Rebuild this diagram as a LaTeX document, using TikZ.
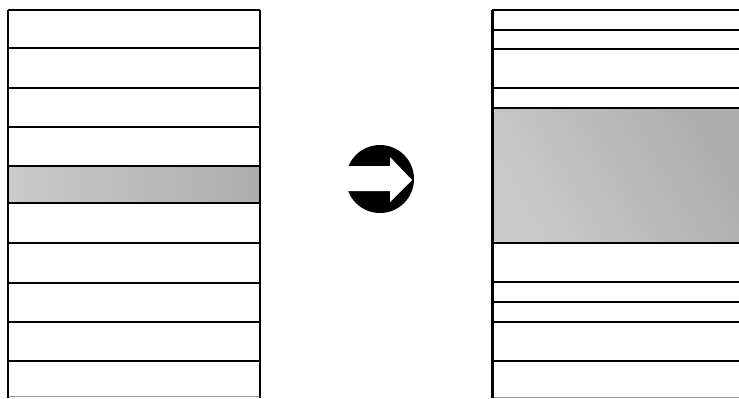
\documentclass[tikz,border=0pt]{standalone}
\definecolor{ink}{HTML}{000000}
\definecolor{faint}{HTML}{9A9A9A}
\definecolor{bandlight}{HTML}{CACACA}
\definecolor{banddark}{HTML}{ADADAD}

\begin{document}
\begin{tikzpicture}[
  x=1bp,
  y=-1bp,
  line cap=butt,
  line join=miter
]
  \useasboundingbox (0,0) rectangle (739,398);

  \tikzset{
    rule/.style={ink,line width=2.1bp},
    side/.style={ink,line width=2.6bp},
    edge/.style={faint,line width=0.8bp}
  }

  \coordinate (LT) at (8,10);
  \coordinate (LB) at (8,398);
  \coordinate (RT) at (260,10);
  \coordinate (RB) at (260,398);
  \coordinate (NT) at (492,10);
  \coordinate (NB) at (492,398);
  \coordinate (O) at (380,179);

  % the thin band, before
  \shade[left color=bandlight,right color=banddark] (9,166) rectangle (260,203);

  % the wide band, after
  \shade[left color=bandlight,right color=banddark,shading angle=120] (493,108) rectangle (739,243);

  % stack before
  \draw[rule] (8,10) -- (260,10);
  \draw[rule] (8,48) -- (260,48);
  \draw[rule] (8,88) -- (260,88);
  \draw[rule] (8,127) -- (260,127);
  \draw[rule] (8,166) -- (260,166);
  \draw[rule] (8,203) -- (260,203);
  \draw[rule] (8,243) -- (260,243);
  \draw[rule] (8,283) -- (260,283);
  \draw[rule] (8,322) -- (260,322);
  \draw[rule] (8,361) -- (260,361);
  \draw[edge] (8,396) -- (260,396);
  \draw[side] (LT) -- (LB);
  \draw[ink,line width=1.6bp] (RT) -- (RB);

  % stack after
  \draw[rule] (492,10) -- (739,10);
  \draw[rule] (492,30) -- (739,30);
  \draw[rule] (492,49) -- (739,49);
  \draw[rule] (492,88) -- (739,88);
  \draw[rule] (492,108) -- (739,108);
  \draw[rule] (492,243) -- (739,243);
  \draw[rule] (492,282) -- (739,282);
  \draw[rule] (492,302) -- (739,302);
  \draw[rule] (492,322) -- (739,322);
  \draw[rule] (492,361) -- (739,361);
  \draw[edge] (492,397) -- (739,397);
  \draw[ink,line width=3bp] (NT) -- (NB);

  % the round arrow
  \fill[ink] (O) circle (34);
  \fill[white] (340,166) -- (390,166) -- (390,157) -- (412,180)
    -- (390,202) -- (390,191) -- (340,191) -- cycle;
\end{tikzpicture}
\end{document}
